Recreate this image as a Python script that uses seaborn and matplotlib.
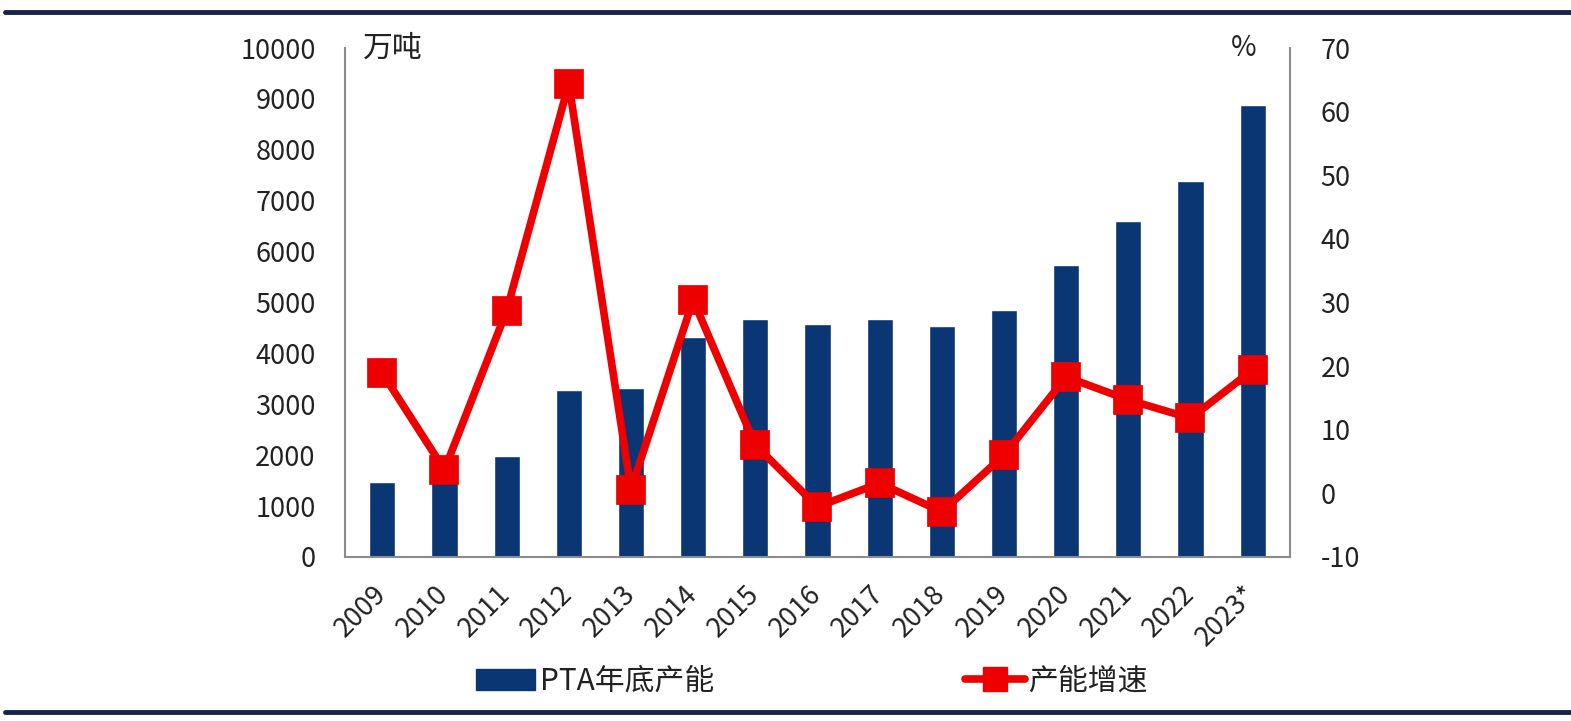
import matplotlib
matplotlib.use("Agg")
import matplotlib.pyplot as plt
import matplotlib.transforms as mtransforms
import seaborn as sns
import pandas as pd
from matplotlib.patches import Patch
from matplotlib.lines import Line2D

years = ["2009", "2010", "2011", "2012", "2013", "2014", "2015", "2016",
         "2017", "2018", "2019", "2020", "2021", "2022", "2023*"]
capacity = [1470, 1520, 1980, 3280, 3320, 4330, 4670, 4580,
            4670, 4545, 4850, 5740, 6600, 7390, 8880]
growth = [18.9, 3.7, 28.7, 64.4, 0.6, 30.4, 7.6, -2.1,
          1.6, -2.9, 6.0, 18.3, 14.7, 11.8, 19.4]
left_ticks = [0, 1000, 2000, 3000, 4000, 5000, 6000, 7000, 8000, 9000, 10000]
right_ticks = [-10, 0, 10, 20, 30, 40, 50, 60, 70]
bar_label = "PTA年底产能"
line_label = "产能增速"

sns.set_theme(style="white")
plt.rcParams['font.family'] = ['Noto Sans CJK SC', 'DejaVu Sans']
plt.rcParams['axes.unicode_minus'] = False

BAR = "#0a3673"
RED = "#ee0000"
AX = "#8c8c8c"
TXT = "#222222"

df = pd.DataFrame({"year": years, "cap": capacity, "g": growth})

fig = plt.figure(figsize=(15.71, 7.21), dpi=100)
ax = fig.add_axes([0.2196, 0.2275, 0.6015, 0.7059])
sns.barplot(data=df, x="year", y="cap", color=BAR, width=0.42, ax=ax,
            saturation=1)
ax.set_ylim(0, 10000)
ax.set_yticks(left_ticks)
ax.set_xlim(-0.6, len(years) - 0.4)
ax.set_xlabel("")
ax.set_ylabel("")

ax2 = ax.twinx()
sns.pointplot(data=df, x="year", y="g", color=RED, markers="s",
              linewidth=5.5, markersize=17, ax=ax2)
ax2.set_ylim(-10, 70)
ax2.set_yticks(right_ticks)
ax2.set_ylabel("")
ax2.set_xlim(-0.6, len(years) - 0.4)

for a in (ax, ax2):
    for s in a.spines.values():
        s.set_visible(False)
    a.tick_params(length=0, labelsize=19.5, colors=TXT)
ax.spines["left"].set_visible(True)
ax.spines["bottom"].set_visible(True)
ax2.spines["right"].set_visible(True)
for a, side in ((ax, "left"), (ax, "bottom"), (ax2, "right")):
    a.spines[side].set_color(AX)
    a.spines[side].set_linewidth(1.5)

ax.tick_params(axis="y", pad=21)
ax2.tick_params(axis="y", pad=22)
ax.set_xticks(range(len(years)))
ax.set_xticklabels(years, rotation=45, ha="right", rotation_mode="anchor",
                   fontsize=19.5)
ax.tick_params(axis="x", pad=17)
shift = mtransforms.ScaledTranslation(-7 / 72, 0, fig.dpi_scale_trans)
for lbl in ax.get_xticklabels():
    lbl.set_transform(lbl.get_transform() + shift)

ax.text(0.019, 1.0, "万吨", transform=ax.transAxes, fontsize=21.5,
        color=TXT, ha="left", va="center")
ax2.text(0.965, 1.0, "%", transform=ax2.transAxes, fontsize=20,
         color=TXT, ha="right", va="center")

handles = [Patch(facecolor=BAR, edgecolor=BAR),
           Line2D([0], [0], color=RED, lw=5.5, marker="s", markersize=17)]
fig.legend(handles, [bar_label, line_label], ncol=2, loc="center",
           bbox_to_anchor=(0.517, 0.055), frameon=False, fontsize=21.5,
           columnspacing=8.4, handlelength=2.0, handletextpad=0.15,
           labelcolor=TXT)

for yy in (0.983, 0.013):
    fig.add_artist(Line2D([0.003, 1.0], [yy, yy], transform=fig.transFigure,
                          color="#14254a", lw=3.5))

fig.savefig("out.png", dpi=100, facecolor="white")
